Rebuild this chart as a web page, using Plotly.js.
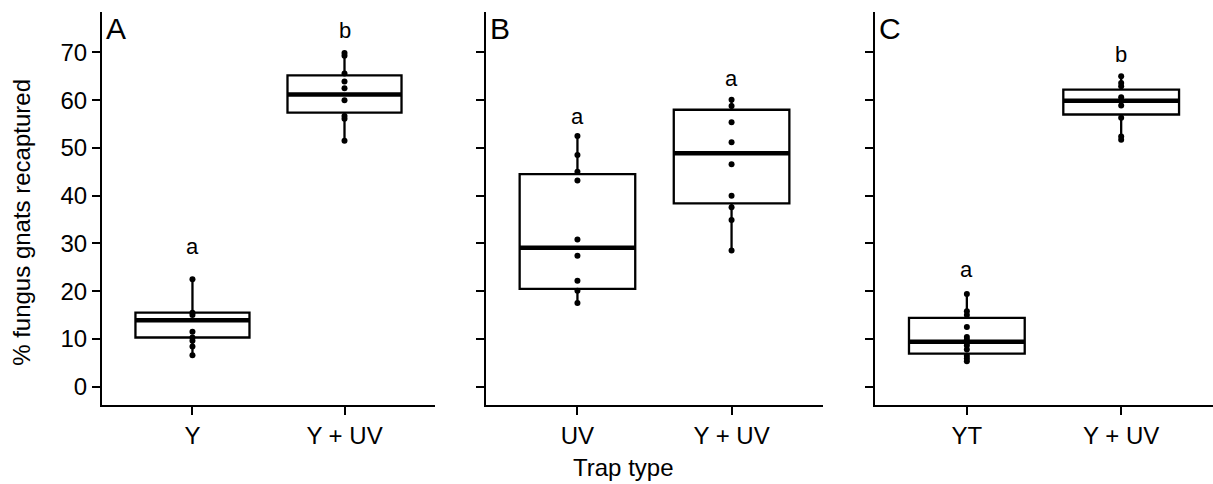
<!DOCTYPE html>
<html>
<head>
<meta charset="utf-8">
<script src="https://cdn.plot.ly/plotly-3.0.1.min.js"></script>
<style>html,body{margin:0;padding:0;background:#fff;}#chart{width:1213px;height:484px;}</style>
</head>
<body>
<div id="chart"></div>
<script>
// ---------- data ----------
const panelLetters = ['A', 'B', 'C'];
const catsA = ['Y', 'Y + UV'];
const catsB = ['UV', 'Y + UV'];
const catsC = ['YT', 'Y + UV'];

// box statistics [cat0, cat1]
const lowerA = [6.7, 51.5],  q1A = [10.3, 57.4], medA = [13.9, 61.2], q3A = [15.5, 65.2], upperA = [22.5, 69.9];
const lowerB = [17.5, 28.5], q1B = [20.5, 38.4], medB = [29.1, 48.9], q3B = [44.5, 58.0], upperB = [52.5, 60.1];
const lowerC = [5.3, 51.7],  q1C = [6.9, 57.0],  medC = [9.4, 59.9],  q3C = [14.4, 62.2], upperC = [19.4, 65.0];

// individual observations
const ptsA_Y   = [22.5, 15.5, 15.0, 11.5, 10.3, 9.6, 8.4, 6.6];
const ptsA_YUV = [69.9, 69.3, 65.6, 63.9, 62.5, 60.0, 56.7, 56.1, 51.5];
const ptsB_UV  = [52.5, 48.5, 45.0, 43.2, 30.8, 27.4, 22.2, 20.1, 17.5];
const ptsB_YUV = [60.1, 58.8, 55.4, 51.2, 46.6, 40.0, 37.6, 34.9, 28.5];
const ptsC_YT  = [19.4, 15.8, 15.0, 12.5, 10.4, 9.8, 9.2, 8.6, 7.8, 6.5, 5.9, 5.3];
const ptsC_YUV = [65.0, 63.6, 62.9, 60.6, 59.9, 58.9, 56.3, 52.4, 51.7];

// significance letters
const sigA = ['a', 'b'], sigYA = [29.4, 74.6];
const sigB = ['a', 'a'], sigYB = [56.6, 64.5];
const sigC = ['a', 'b'], sigYC = [24.6, 69.5];

const yTitle = '% fungus gnats recaptured';
const xTitle = 'Trap type';

// ---------- build ----------
const FONT = 'Liberation Sans, Arial, Helvetica, sans-serif';
const BOXW = 0.75;
const panels = [
  {cats: catsA, lo: lowerA, q1: q1A, med: medA, q3: q3A, hi: upperA, pts: [ptsA_Y, ptsA_YUV], sig: sigA, sigY: sigYA, xa: 'x',  ya: 'y'},
  {cats: catsB, lo: lowerB, q1: q1B, med: medB, q3: q3B, hi: upperB, pts: [ptsB_UV, ptsB_YUV], sig: sigB, sigY: sigYB, xa: 'x2', ya: 'y2'},
  {cats: catsC, lo: lowerC, q1: q1C, med: medC, q3: q3C, hi: upperC, pts: [ptsC_YT, ptsC_YUV], sig: sigC, sigY: sigYC, xa: 'x3', ya: 'y3'}
];

const traces = [];
const shapes = [];
const annotations = [];

panels.forEach((p, i) => {
  traces.push({
    type: 'box', x: p.cats, q1: p.q1, median: p.med, q3: p.q3,
    lowerfence: p.lo, upperfence: p.hi, width: BOXW, whiskerwidth: 0,
    boxpoints: false, fillcolor: 'white', line: {color: 'black', width: 2.3},
    xaxis: p.xa, yaxis: p.ya, hoverinfo: 'skip', showlegend: false
  });
  p.cats.forEach((c, j) => {
    shapes.push({
      type: 'line', xref: p.xa, yref: p.ya,
      x0: j - BOXW / 2, x1: j + BOXW / 2, y0: p.med[j], y1: p.med[j],
      line: {color: 'black', width: 4.5}, layer: 'above'
    });
    traces.push({
      type: 'scatter', mode: 'markers', x: p.pts[j].map(() => c), y: p.pts[j],
      marker: {color: 'black', size: 6}, xaxis: p.xa, yaxis: p.ya,
      hoverinfo: 'skip', showlegend: false
    });
    annotations.push({
      xref: p.xa, yref: p.ya, x: c, y: p.sigY[j], text: p.sig[j],
      showarrow: false, xanchor: 'center', yanchor: 'middle',
      font: {family: FONT, size: 22, color: 'black'}
    });
  });
  annotations.push({
    xref: p.xa + ' domain', yref: p.ya + ' domain', x: 0, y: 1,
    xanchor: 'left', yanchor: 'top', xshift: 2, yshift: 2,
    text: panelLetters[i], showarrow: false,
    font: {family: FONT, size: 30, color: 'black'}
  });
});

annotations.push({
  xref: 'paper', yref: 'paper', x: 0.469, y: -0.16, xanchor: 'center', yanchor: 'middle',
  text: xTitle, showarrow: false, font: {family: FONT, size: 24, color: 'black'}
});
annotations.push({
  xref: 'paper', yref: 'paper', x: -0.072, y: 0.4635, xanchor: 'center', yanchor: 'middle',
  textangle: -90, text: yTitle, showarrow: false, font: {family: FONT, size: 24, color: 'black'}
});

const xBase = {
  type: 'category', range: [-0.595, 1.595], showline: true, linecolor: 'black', linewidth: 2,
  ticks: 'outside', ticklen: 8, tickwidth: 2, tickcolor: 'black',
  tickfont: {family: FONT, size: 24, color: 'black'},
  showgrid: false, zeroline: false, fixedrange: true
};
const yBase = {
  range: [-3.84, 78.47], tick0: 0, dtick: 10, showline: true, linecolor: 'black', linewidth: 2,
  ticks: 'outside', ticklen: 8, tickwidth: 2, tickcolor: 'black',
  tickfont: {family: FONT, size: 24, color: 'black'},
  showgrid: false, zeroline: false, fixedrange: true
};

const layout = {
  width: 1213, height: 484,
  margin: {l: 102, r: 0, t: 12, b: 79},
  paper_bgcolor: 'white', plot_bgcolor: 'white',
  showlegend: false,
  xaxis:  Object.assign({}, xBase, {domain: [0, 0.2997], anchor: 'y'}),
  xaxis2: Object.assign({}, xBase, {domain: [0.3454, 0.6492], anchor: 'y2'}),
  xaxis3: Object.assign({}, xBase, {domain: [0.6958, 1], anchor: 'y3'}),
  yaxis:  Object.assign({}, yBase, {anchor: 'x'}),
  yaxis2: Object.assign({}, yBase, {anchor: 'x2', showticklabels: false}),
  yaxis3: Object.assign({}, yBase, {anchor: 'x3', showticklabels: false}),
  shapes: shapes,
  annotations: annotations
};

Plotly.newPlot('chart', traces, layout, {displayModeBar: false, staticPlot: true});
</script>
</body>
</html>
